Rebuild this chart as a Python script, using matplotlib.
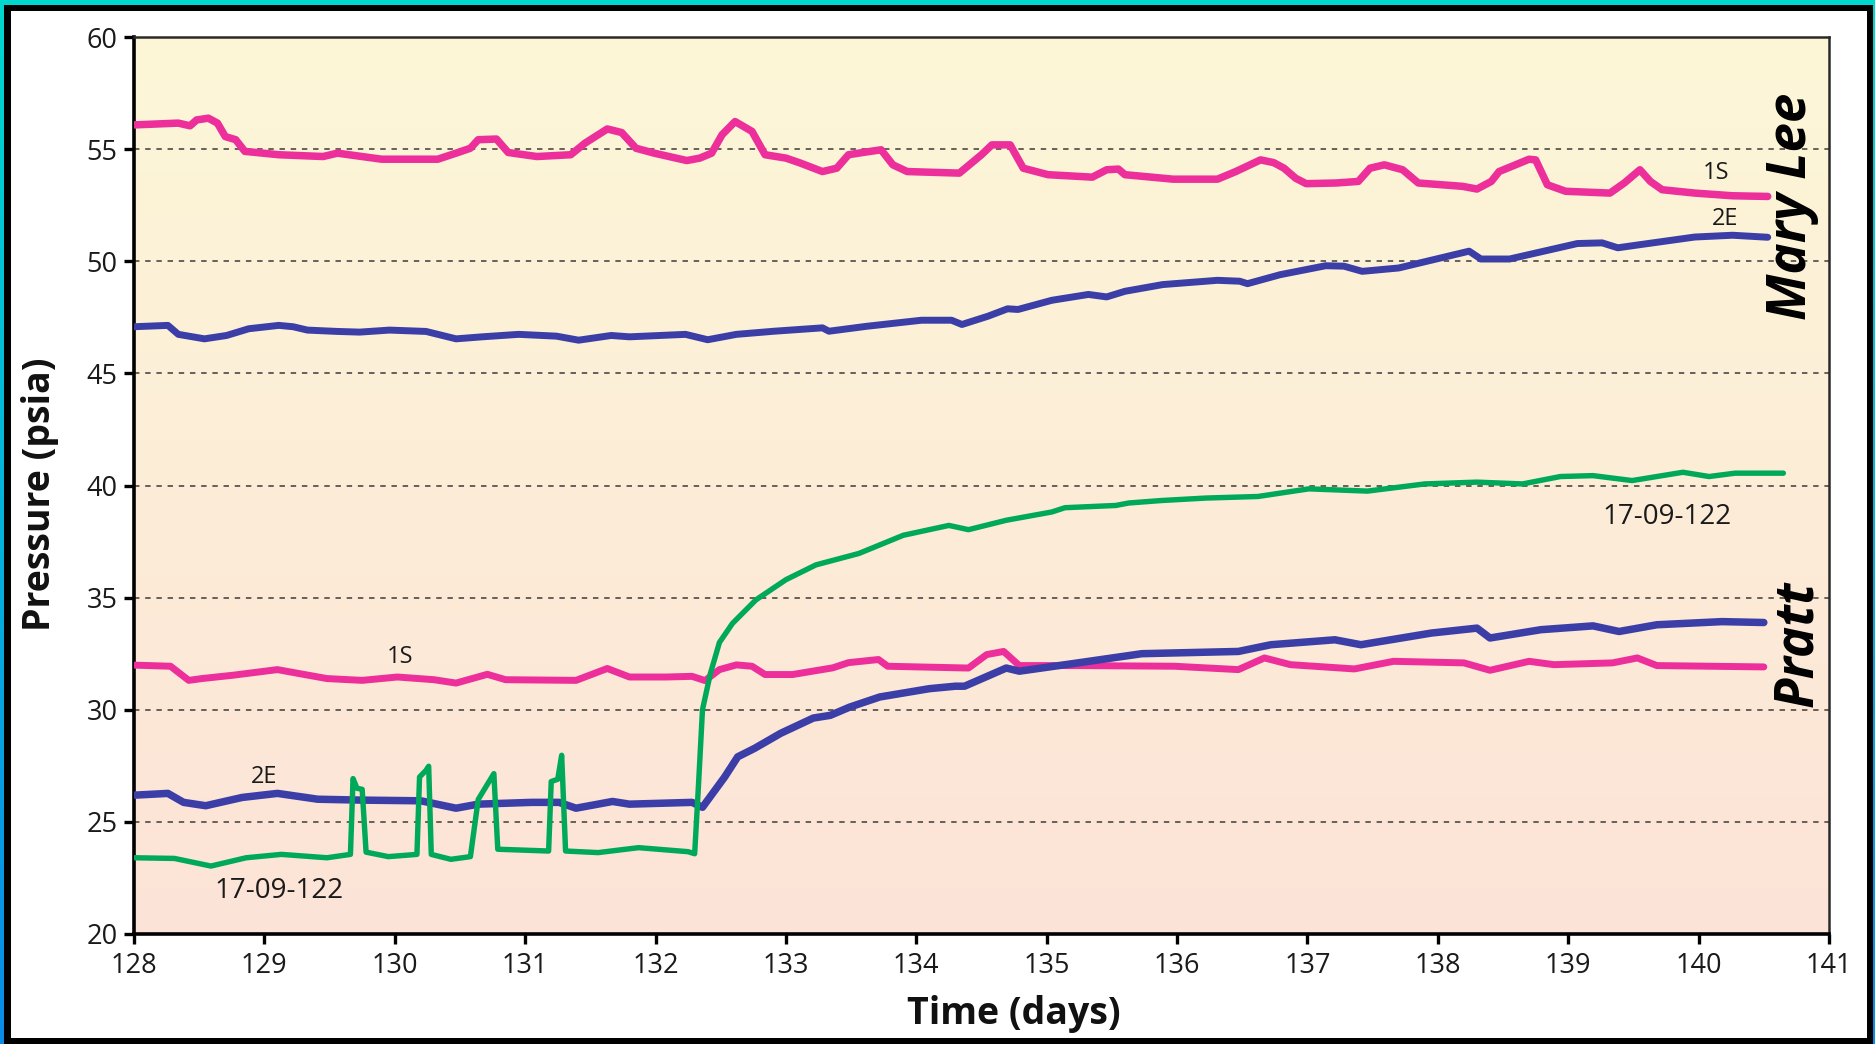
import numpy as np
import matplotlib
matplotlib.use("Agg")
import matplotlib.pyplot as plt
from matplotlib.patches import Rectangle

plt.rcParams['font.family'] = ['Open Sans', 'DejaVu Sans']

# ---------------- data (time in days, pressure in psia) ----------------
mary_lee_1s = [(128.0, 56.08), (128.34, 56.16), (128.43, 56.04), (128.48, 56.3), (128.57, 56.38),
               (128.64, 56.16), (128.7, 55.56), (128.78, 55.42), (128.85, 54.9), (129.11, 54.75),
               (129.45, 54.67), (129.56, 54.82), (129.9, 54.55), (130.33, 54.55), (130.47, 54.82),
               (130.58, 55.04), (130.64, 55.42), (130.78, 55.45), (130.87, 54.85), (131.09, 54.67),
               (131.35, 54.75), (131.46, 55.27), (131.63, 55.9), (131.74, 55.74), (131.85, 55.04),
               (131.99, 54.82), (132.24, 54.49), (132.34, 54.6), (132.43, 54.82), (132.51, 55.64),
               (132.61, 56.23), (132.74, 55.79), (132.84, 54.75), (133.0, 54.6), (133.11, 54.38),
               (133.28, 54.0), (133.39, 54.15), (133.48, 54.75), (133.59, 54.85), (133.73, 54.97),
               (133.82, 54.3), (133.93, 54.0), (134.33, 53.93), (134.5, 54.75), (134.58, 55.19),
               (134.72, 55.19), (134.82, 54.15), (135.01, 53.86), (135.35, 53.75), (135.46, 54.08),
               (135.55, 54.11), (135.6, 53.86), (135.97, 53.66), (136.31, 53.66), (136.45, 54.0),
               (136.64, 54.52), (136.74, 54.4), (136.82, 54.15), (136.91, 53.7), (136.99, 53.46),
               (137.22, 53.49), (137.39, 53.56), (137.48, 54.15), (137.59, 54.3), (137.73, 54.08),
               (137.85, 53.49), (138.19, 53.34), (138.3, 53.22), (138.41, 53.56), (138.47, 54.0),
               (138.7, 54.55), (138.75, 54.52), (138.84, 53.41), (138.98, 53.12), (139.32, 53.04),
               (139.43, 53.49), (139.55, 54.08), (139.63, 53.56), (139.72, 53.19), (139.97, 53.04),
               (140.26, 52.92), (140.53, 52.89)]

mary_lee_2e = [(128.0, 47.08), (128.26, 47.14), (128.34, 46.74), (128.54, 46.54), (128.71, 46.69),
               (128.88, 46.99), (129.11, 47.14), (129.22, 47.08), (129.33, 46.93), (129.56, 46.87),
               (129.73, 46.84), (129.96, 46.93), (130.24, 46.87), (130.47, 46.54), (130.67, 46.63),
               (130.95, 46.74), (131.24, 46.66), (131.41, 46.48), (131.66, 46.69), (131.8, 46.63),
               (132.23, 46.74), (132.4, 46.5), (132.62, 46.74), (132.91, 46.88), (133.28, 47.03),
               (133.33, 46.88), (133.62, 47.1), (134.04, 47.37), (134.27, 47.37), (134.35, 47.18),
               (134.55, 47.55), (134.7, 47.88), (134.78, 47.85), (135.04, 48.26), (135.32, 48.52),
               (135.46, 48.41), (135.6, 48.66), (135.89, 48.96), (136.31, 49.15), (136.48, 49.11),
               (136.54, 49.0), (136.79, 49.4), (137.14, 49.8), (137.28, 49.78), (137.42, 49.55),
               (137.7, 49.7), (138.24, 50.45), (138.33, 50.1), (138.55, 50.1), (139.07, 50.79),
               (139.26, 50.82), (139.38, 50.6), (139.55, 50.74), (139.97, 51.08), (140.26, 51.16),
               (140.53, 51.07)]

pratt_1s = [(128.0, 31.99), (128.28, 31.94), (128.42, 31.31), (128.52, 31.39), (128.76, 31.54),
            (129.1, 31.79), (129.27, 31.61), (129.48, 31.39), (129.75, 31.31), (130.02, 31.46),
            (130.3, 31.34), (130.47, 31.19), (130.71, 31.58), (130.85, 31.34), (131.39, 31.31),
            (131.63, 31.84), (131.8, 31.46), (132.08, 31.46), (132.28, 31.49), (132.38, 31.3),
            (132.49, 31.79), (132.62, 32.0), (132.74, 31.94), (132.84, 31.57), (133.05, 31.57),
            (133.36, 31.87), (133.48, 32.1), (133.71, 32.24), (133.78, 31.94), (134.4, 31.86),
            (134.54, 32.46), (134.67, 32.6), (134.79, 31.97), (135.24, 31.97), (135.98, 31.94),
            (136.47, 31.79), (136.67, 32.31), (136.87, 32.01), (137.36, 31.82), (137.66, 32.16),
            (138.2, 32.09), (138.4, 31.76), (138.7, 32.16), (138.89, 32.01), (139.34, 32.09),
            (139.53, 32.31), (139.68, 31.97), (140.5, 31.91)]

pratt_2e = [(128.0, 26.19), (128.26, 26.27), (128.38, 25.87), (128.55, 25.72), (128.83, 26.09),
            (129.1, 26.27), (129.41, 26.01), (129.75, 25.97), (130.2, 25.94), (130.47, 25.61),
            (130.64, 25.79), (131.05, 25.87), (131.26, 25.87), (131.39, 25.61), (131.67, 25.91),
            (131.8, 25.79), (132.28, 25.87), (132.36, 25.65), (132.53, 27.0), (132.63, 27.9),
            (132.76, 28.28), (132.96, 28.95), (133.21, 29.63), (133.34, 29.75), (133.49, 30.12),
            (133.72, 30.57), (134.1, 30.94), (134.3, 31.05), (134.37, 31.05), (134.69, 31.86),
            (134.79, 31.72), (135.24, 32.09), (135.73, 32.5), (136.47, 32.6), (136.72, 32.9),
            (137.21, 33.12), (137.41, 32.9), (137.95, 33.42), (138.3, 33.64), (138.4, 33.2),
            (138.79, 33.57), (139.19, 33.74), (139.39, 33.49), (139.68, 33.79), (140.18, 33.93),
            (140.5, 33.89)]

well_17_09_122 = [(128.0, 23.4), (128.31, 23.37), (128.59, 23.03), (128.86, 23.4), (129.13, 23.55),
                  (129.48, 23.4), (129.66, 23.55), (129.68, 26.93), (129.71, 26.5), (129.75, 26.45),
                  (129.78, 23.65), (129.95, 23.45), (130.17, 23.55), (130.19, 27.0), (130.24, 27.3),
                  (130.26, 27.48), (130.28, 23.55), (130.43, 23.33), (130.58, 23.45), (130.64, 26.0),
                  (130.76, 27.15), (130.79, 23.78), (131.18, 23.7), (131.2, 26.8), (131.25, 26.9),
                  (131.28, 27.97), (131.31, 23.7), (131.56, 23.63), (131.87, 23.85), (132.25, 23.67),
                  (132.3, 23.58), (132.33, 26.7), (132.36, 30.0), (132.42, 31.6), (132.49, 33.0),
                  (132.59, 33.85), (132.77, 34.9), (133.0, 35.8), (133.23, 36.46), (133.56, 36.97),
                  (133.9, 37.78), (134.25, 38.22), (134.4, 38.03), (134.69, 38.45), (135.04, 38.82),
                  (135.14, 39.01), (135.53, 39.11), (135.63, 39.22), (135.88, 39.33), (136.22, 39.44),
                  (136.62, 39.51), (137.01, 39.85), (137.46, 39.75), (137.9, 40.07), (138.3, 40.15),
                  (138.65, 40.07), (138.94, 40.4), (139.19, 40.44), (139.49, 40.22), (139.88, 40.59),
                  (140.08, 40.4), (140.28, 40.55), (140.65, 40.55)]

x_ticks = list(range(128, 142))
y_ticks = list(range(20, 61, 5))
grid_levels = [25, 30, 35, 40, 45, 50, 55]

# ---------------- styling ----------------
PINK = '#ec2f9a'
BLUE = '#3c3ea8'
GREEN = '#00a85a'
W, H = 1875, 1044

fig = plt.figure(figsize=(W / 100, H / 100), dpi=100)

# frame background (teal -> blue gradient, black band, white interior)
bg = fig.add_axes([0, 0, 1, 1], zorder=-10)
bg.set_xlim(0, W)
bg.set_ylim(H, 0)
bg.axis('off')
top_c = np.array([0, 216, 206]) / 255
bot_c = np.array([10, 140, 232]) / 255
g = np.linspace(0, 1, 256)[:, None, None]
grad = top_c * (1 - g) + bot_c * g
grad = np.repeat(grad, 2, axis=1)
bg.imshow(grad, extent=[0, W, H, 0], aspect='auto', interpolation='bilinear')
bg.add_patch(Rectangle((4, 5), W - 6, H - 5, facecolor='black', edgecolor='none'))
bg.add_patch(Rectangle((11, 11), 1856, 1027, facecolor='white', edgecolor='none'))

# main axes
left, right, top, bottom = 134, 1829, 37, 934
ax = fig.add_axes([left / W, 1 - bottom / H, (right - left) / W, (bottom - top) / H])

# background gradient inside axes (light yellow top -> peach bottom)
c_top = np.array([252, 247, 215]) / 255
c_bot = np.array([253, 227, 216]) / 255
gg = np.linspace(0, 1, 256)[:, None, None]
agrad = np.repeat(c_top * (1 - gg) + c_bot * gg, 2, axis=1)
ax.imshow(agrad, extent=[128, 141, 20, 60], origin='upper', aspect='auto',
          interpolation='bilinear', zorder=0)
ax.set_xlim(128, 141)
ax.set_ylim(20, 60)

for lv in grid_levels:
    ax.axhline(lv, color='#5a5550', lw=1.3, ls=(0, (3, 3.2)), zorder=1)

def draw(series, color, lw):
    t, p = zip(*series)
    ax.plot(t, p, color=color, lw=lw, solid_joinstyle='round', solid_capstyle='round', zorder=3)

draw(mary_lee_1s, PINK, 5.4)
draw(mary_lee_2e, BLUE, 5.0)
draw(pratt_1s, PINK, 5.0)
draw(pratt_2e, BLUE, 5.4)
draw(well_17_09_122, GREEN, 3.9)

# spines and ticks
for s in ['left', 'bottom']:
    ax.spines[s].set_linewidth(2.6)
    ax.spines[s].set_color('black')
for s in ['top', 'right']:
    ax.spines[s].set_linewidth(1.8)
    ax.spines[s].set_color('#2a2a2a')
ax.set_xticks(x_ticks)
ax.set_yticks(y_ticks)
ax.set_xticklabels([str(v) for v in x_ticks])
ax.set_yticklabels([str(v) for v in y_ticks])
ax.tick_params(axis='both', direction='out', length=7, width=2.4, labelsize=19.5,
               colors='black', labelcolor='#1a1a1a')
ax.tick_params(axis='x', pad=6)
ax.tick_params(axis='y', pad=5)

# axis labels
fig.text(1014 / W, 1 - 1014 / H, 'Time (days)', fontsize=27, fontweight='bold',
         ha='center', va='center', color='#111111')
fig.text(40 / W, 1 - 494 / H, 'Pressure (psia)', fontsize=27, fontweight='bold',
         rotation=90, ha='center', va='center', color='#111111')

# series labels
lab = dict(color='#1a1a1a', ha='center', va='center', zorder=5)
ax.text(140.13, 53.92, '1S', fontsize=17, **lab)
ax.text(140.2, 51.9, '2E', fontsize=17, **lab)
ax.text(139.76, 38.6, '17-09-122', fontsize=20, **lab)
ax.text(130.04, 32.37, '1S', fontsize=17, **lab)
ax.text(129.0, 26.99, '2E', fontsize=17, **lab)
ax.text(129.11, 21.92, '17-09-122', fontsize=20, **lab)

# formation labels
ax.text(140.72, 52.45, 'Mary Lee', fontsize=38, fontweight='bold', fontstyle='italic',
        rotation=90, ha='center', va='center', color='black', zorder=5)
ax.text(140.76, 32.95, 'Pratt', fontsize=38, fontweight='bold', fontstyle='italic',
        rotation=90, ha='center', va='center', color='black', zorder=5)

fig.savefig('out.png', dpi=100)
